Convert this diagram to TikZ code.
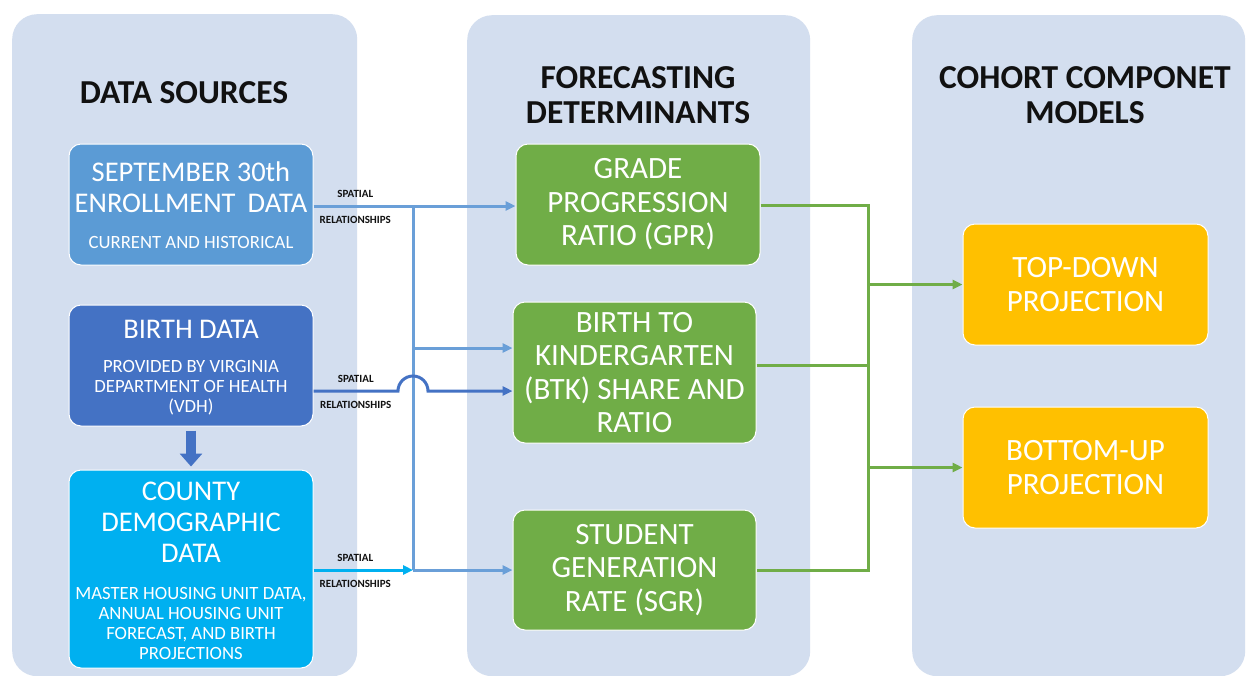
\documentclass[tikz,border=0pt]{standalone}
\usepackage{fontspec}
\setmainfont{Carlito}
\usetikzlibrary{arrows.meta}
\definecolor{panelc}{HTML}{D3DEEF}
\definecolor{septc}{HTML}{5B9BD5}
\definecolor{birthc}{HTML}{4472C4}
\definecolor{countyc}{HTML}{00B0F0}
\definecolor{greenc}{HTML}{70AD47}
\definecolor{orangec}{HTML}{FFC000}
\definecolor{lineblue}{HTML}{6A9FD8}
\definecolor{hdtext}{HTML}{111111}
\tikzset{
  panel/.style={fill=panelc, draw=none, rounded corners=25pt, anchor=north west, inner sep=0pt},
  boxbase/.style={rounded corners=12pt, draw=white, line width=1pt, text=white, align=center, inner sep=0pt},
  bigtxt/.style={font=\fontsize{31}{33.5}\selectfont},
  titletxt/.style={text=white, align=center, inner sep=0pt, font=\fontsize{28.5}{31}\selectfont},
  subtxt/.style={text=white, align=center, inner sep=0pt, font=\fontsize{18.7}{20}\selectfont},
  header/.style={text=hdtext, align=center, inner sep=0pt, font=\bfseries\fontsize{33.5}{35}\selectfont},
  sptop/.style={text=hdtext, inner sep=0pt, font=\bfseries\fontsize{11}{12}\selectfont, yshift=12pt},
  spbot/.style={text=hdtext, inner sep=0pt, font=\bfseries\fontsize{11}{12}\selectfont, yshift=-14pt},
  conn/.style={draw=lineblue, line width=3pt},
  arr/.style={-{Triangle[length=10pt,width=9pt]}},
  gconn/.style={draw=greenc, line width=3pt},
  blockarr/.style={draw=birthc, line width=10pt, -{Triangle[length=13pt,width=22pt]}, shorten <=4pt, shorten >=3pt}
}
\begin{document}
\begin{tikzpicture}[x=1pt,y=-1pt]
\useasboundingbox (0,0) rectangle (1248,675);
\fill[white] (0,0) rectangle (1248,675);

% panels
\node[panel, minimum width=345pt, minimum height=662pt] (pL) at (12,14) {};
\node[panel, minimum width=343pt, minimum height=661pt] (pM) at (467,15) {};
\node[panel, minimum width=333pt, minimum height=661pt] (pR) at (912,15) {};

% headers
\node[header] (hds) at (184,93) {DATA SOURCES};
\node[header] (hdf) at (638,95) {FORECASTING\\DETERMINANTS};
\node[header] (hdc) at (1085,95) {COHORT COMPONET\\MODELS};

% data source boxes
\node[boxbase, fill=septc, minimum width=244pt, minimum height=121pt] (sept) at (191,204.5) {};
\node[titletxt] (septT) at (191,187.5) {SEPTEMBER 30th\\ENROLLMENT\hspace{0.2em} DATA};
\node[subtxt] (septS) at (191,242.5) {CURRENT AND HISTORICAL};

\node[boxbase, fill=birthc, minimum width=244pt, minimum height=121pt] (birth) at (191,365.5) {};
\node[titletxt] (birthT) at (191,329) {BIRTH DATA};
\node[subtxt] (birthS) at (191,388) {PROVIDED BY VIRGINIA\\DEPARTMENT OF HEALTH\\(VDH)};

\node[boxbase, fill=countyc, minimum width=244pt, minimum height=198pt] (county) at (191,569) {};
\node[titletxt] (countyT) at (191,522) {COUNTY\\DEMOGRAPHIC\\DATA};
\node[subtxt] (countyS) at (191,623) {MASTER HOUSING UNIT DATA,\\ANNUAL HOUSING UNIT\\FORECAST, AND BIRTH\\PROJECTIONS};

% determinants
\node[boxbase, bigtxt, fill=greenc, minimum width=244pt, minimum height=121pt] (gpr) at (638,204.5) {GRADE\\PROGRESSION\\RATIO (GPR)};
\node[boxbase, bigtxt, fill=greenc, minimum width=243pt, minimum height=141pt] (btk) at (634.5,372.5) {BIRTH TO\\KINDERGARTEN\\(BTK) SHARE AND\\RATIO};
\node[boxbase, bigtxt, fill=greenc, minimum width=243pt, minimum height=120pt] (sgr) at (634.5,570) {STUDENT\\GENERATION\\RATE (SGR)};

% models
\node[boxbase, bigtxt, fill=orangec, minimum width=245pt, minimum height=121pt] (topdown) at (1085.5,284.5) {TOP-DOWN\\PROJECTION};
\node[boxbase, bigtxt, fill=orangec, minimum width=245pt, minimum height=121pt] (bottomup) at (1085.5,467.5) {BOTTOM-UP\\PROJECTION};

% block arrow
\draw[blockarr] (birth.south) -- (county.north);

% junction coordinates
\coordinate (j1) at (413,206);
\coordinate (j2) at (413,570);
\coordinate (j3) at (413,348);
\coordinate (hop) at (413,391);
\coordinate (g1) at (868,205);
\coordinate (g2) at (868,570);
\coordinate (g3) at (868,365);

% blue connectors
\draw[conn] (j1) -- (j2);
\draw[conn] (sept.east |- j1) -- node[sptop, pos=0.42] (sp1) {SPATIAL} node[spbot, pos=0.42] (rl1) {RELATIONSHIPS} (j1);
\draw[conn, arr] (j1) -- (j1 -| gpr.west);
\draw[conn, arr] (j3) -- (j3 -| btk.west);
\draw[draw=birthc, line width=3pt, arr] (birth.east |- hop) -- node[sptop, pos=0.5] (sp2) {SPATIAL} node[spbot, pos=0.5] (rl2) {RELATIONSHIPS} ([xshift=-15pt]hop) arc[start angle=180, end angle=0, radius=15pt] -- (hop -| btk.west);
\draw[draw=countyc, line width=3pt, arr] (county.east |- j2) -- node[sptop, pos=0.42] (sp3) {SPATIAL} node[spbot, pos=0.42] (rl3) {RELATIONSHIPS} (j2);
\draw[conn, arr] (j2) -- (j2 -| sgr.west);

% green connectors
\draw[gconn] (gpr.east |- g1) -- (g1) -- (g2) -- (sgr.east |- g2);
\draw[gconn] (btk.east |- g3) -- (g3);
\draw[gconn, arr] (g1 |- topdown.west) -- (topdown.west);
\draw[gconn, arr] (g1 |- bottomup.west) -- (bottomup.west);
\end{tikzpicture}
\end{document}
